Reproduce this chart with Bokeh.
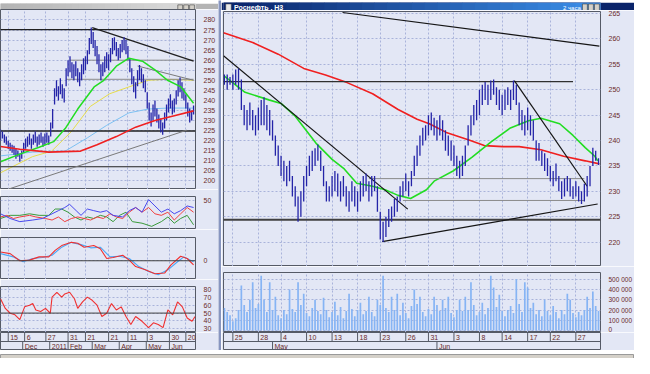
from bokeh.plotting import figure
from bokeh.layouts import row, column
from bokeh.models import Range1d, FixedTicker, Label, Span
from bokeh.core.properties import value
from bokeh.embed import file_html
from bokeh.resources import INLINE

# ---------------- right window: 2-hour bars ----------------
R_LOW = [251, 250, 251, 250, 251, 250, 246, 243, 242, 243, 242, 241, 242, 243, 243, 242, 241, 240,
         237, 235, 233, 232, 231, 232, 229, 227, 224, 225, 228, 231, 233, 234, 235, 236, 234, 231,
         228, 228, 229, 230, 229, 228, 229, 227, 226, 228, 227, 226, 228, 229, 230, 228, 229, 230,
         226, 220.5, 220, 221, 223, 224, 225, 226, 228, 229, 230, 229, 231, 233, 235, 237, 239, 240,
         241, 242, 241, 240, 241, 240, 238, 237, 236, 235, 233, 232.5, 233, 235, 239, 241, 243, 244,
         245, 247, 248, 247, 248, 249, 247, 246, 245, 246, 247, 246, 248, 247, 243, 242, 241, 242,
         241, 240, 236, 236, 235, 234, 233, 232, 231, 232, 230, 228.5, 229, 230, 229, 228.5, 229, 228,
         227.5, 228, 229, 231, 235, 236, 235.2]
R_HIGH = [253, 253, 252.5, 253, 254, 254.2, 252, 247, 246, 247.5, 246, 245, 246.5, 248, 248.5, 247, 246, 244,
          241, 239, 237, 236, 235, 236, 233, 231, 229, 230, 233, 235, 237, 238, 238.5, 239.2, 238, 235,
          232, 231, 233, 234, 233.5, 232, 233, 231, 230, 232, 231, 230, 232, 233, 233.5, 232, 233, 233,
          231, 226, 224, 225, 226.5, 227, 228.5, 229, 231, 232, 233.5, 232, 234, 237, 239, 241, 242.5, 243,
          245, 245.5, 244.5, 244, 245, 244, 242, 241, 240, 239, 237, 236, 237, 239, 243, 245, 247, 248,
          250, 251, 251.5, 251, 251.8, 252, 250.5, 250, 249, 250, 250.5, 250, 251.8, 251, 247.5, 246, 245, 246.5,
          245, 244, 240, 239.5, 238, 237.5, 236.5, 235, 234, 235.5, 233, 232, 232.5, 233, 232.5, 231, 232, 231,
          230, 231.5, 233, 235, 238.6, 238, 236.5]
R_VOL = [220, 180, 150, 90, 120, 200, 440, 250, 180, 300, 470, 220, 260, 535, 300, 180, 470, 200, 330,
         150, 120, 200, 160, 400, 210, 180, 470, 250, 360, 170, 140, 220, 300, 190, 160, 320, 200, 130,
         180, 280, 150, 230, 120, 190, 360, 210, 140, 200, 270, 160, 190, 330, 180, 140, 300, 250, 535,
         220, 180, 330, 200, 360, 150, 270, 170, 120, 240, 400, 260, 330, 180, 140, 210, 160, 330, 250,
         190, 300, 220, 330, 170, 130, 200, 300, 190, 330, 200, 470, 250, 150, 180, 270, 160, 220, 535,
         420, 230, 350, 190, 140, 200, 240, 170, 500, 260, 180, 470, 420, 220, 270, 160, 200, 140, 300,
         190, 150, 240, 180, 120, 200, 160, 360, 300, 170, 130, 180, 150, 200, 330, 220, 380, 240, 190]
R_MA_FAST_X = [0, 7.3, 15.7, 20, 25, 32.3, 38, 42.3, 46.7, 52.3, 56.7, 61.3, 65.7, 71.3, 74, 80.7, 87.3,
               94, 100.7, 107.3, 111.7, 118.3, 123, 127.3, 130.7, 131.7]
R_MA_FAST_Y = [252.7, 249.5, 248, 247.3, 244.8, 239.5, 236.3, 234.4, 231.6, 231, 230.3, 229.2, 228.6,
               230.3, 232, 234, 236.7, 239.7, 242.4, 243.9, 244.4, 243.3, 241, 238.6, 236.9, 236]
R_MA_SLOW_X = [-0.3, 10, 19, 28, 35.7, 43.3, 52.3, 61.3, 68, 72.3, 78.3, 86.3, 91.7, 98.3, 104, 111.7,
               119.7, 127.3, 132.3]
R_MA_SLOW_Y = [261.2, 259.3, 257, 254.2, 252.9, 251.4, 249.2, 246.1, 244.2, 243.3, 241.6, 240.1, 239,
               238.8, 238.8, 238.2, 236.9, 236, 235.4]
R_TREND_X0 = [41.7, -0.3, 102.3, 55.7]
R_TREND_Y0 = [265.2, 256.7, 251.8, 220.1]
R_TREND_X1 = [132.3, 64.7, 128, 131.7]
R_TREND_Y1 = [258.6, 226.5, 231, 227.5]
R_LEVEL_Y = [251.6, 224.4, 232.5, 228.2]
R_LEVEL_X0 = [-0.5, -0.5, 51, 63]
R_LEVEL_X1 = [123, 133, 127, 127]
R_DAY_TICKS = [3, 12, 20, 29, 38, 47, 55, 64, 72, 81, 90, 98, 107, 115, 124]
R_DAY_LABELS = ["25", "28", "4", "10", "13", "18", "23", "26", "31", "3", "8", "14", "17", "22", "27"]
R_MONTH_TICKS = [17, 75]
R_MONTH_LABELS = ["May", "Jun"]
R_PRICE_TICKS = [220, 225, 230, 235, 240, 245, 250, 255, 260, 265]
R_VOL_TICKS = [0, 100, 200, 300, 400, 500]
R_VOL_LABELS = ["0", "100 000", "200 000", "300 000", "400 000", "500 000"]
LAST_PRICE = 235.77

# ---------------- left window: daily bars ----------------
L_LOW = [220, 221, 219, 218, 216, 215, 214, 213, 211, 212, 209.5, 211, 214, 216, 217, 218, 216, 218,
         219, 217, 218, 219, 217, 218, 219, 218, 222, 226, 238, 242, 240, 243, 241, 239, 247, 252, 254,
         251, 250, 252, 249, 247, 250, 253, 255, 258, 263, 268, 266, 262, 258, 254, 250, 252, 254, 256,
         255, 259, 263, 265, 262, 260, 261, 264, 265, 263, 260, 254, 248, 244, 241, 247, 250, 249, 246,
         244, 236, 230, 227, 230, 232, 229, 226, 224, 222.9, 226, 230, 234, 236, 233, 234, 238, 242, 244,
         241, 240, 236, 232, 229, 230, 233]
L_HIGH = [225.5, 224.5, 223, 222, 220, 219, 218, 217.5, 216, 215, 213.5, 215, 219, 221, 222, 223.5, 221, 223,
          224.5, 222, 223, 224, 222, 223.5, 224, 222.5, 229, 235.7, 246, 250, 247, 251, 248, 246, 256, 260, 262,
          259, 258, 259.5, 256, 254, 258, 261, 262, 265, 271, 276.2, 274, 270, 267, 263, 258, 259, 262, 264,
          263, 266, 271, 271.4, 269, 266, 268, 270, 271.4, 270, 267, 261, 256, 252, 249, 255, 257.6, 256, 253,
          250, 244, 239, 234, 238, 240, 236, 233, 231, 229, 234, 238, 241, 243, 240, 241, 245, 250, 251.4,
          249, 246, 243, 239, 236, 235, 237.5]
L_MA_GREEN_X = [0, 10, 20, 27.5, 33.5, 40, 48.5, 53.5, 60, 66.5, 73.5, 80, 86.5, 93.5, 100]
L_MA_GREEN_Y = [209.5, 213.3, 216.7, 219.5, 226, 235.7, 246.7, 250, 257, 261, 259.5, 255.2, 250, 246.7, 238.6]
L_MA_YELLOW_X = [0, 16.5, 26.5, 36.5, 46.5, 56.5, 66.5, 76.5, 86.5, 100]
L_MA_YELLOW_Y = [204, 212, 214.8, 224.3, 237, 243.3, 246.7, 250, 250.5, 250]
L_MA_BLUE_X = [0, 16.5, 33.5, 45, 55, 66.5, 76.5, 86.5, 100]
L_MA_BLUE_Y = [212.4, 214.3, 214.8, 221.4, 227.6, 233.8, 235.7, 236.2, 236.2]
L_MA_RED_X = [0, 10, 25, 41.5, 50, 60, 70, 80, 90, 100]
L_MA_RED_Y = [217.1, 215.7, 214.3, 214.8, 218, 222, 226.7, 230, 232.4, 234.8]
L_TREND_X0 = [47.5, 71, 3.5]
L_TREND_Y0 = [276.2, 257.1, 195.7]
L_TREND_X1 = [100, 100, 96.5]
L_TREND_Y1 = [259.5, 250, 225.2]
L_TREND_COLOR = ["#202020", "#7a7a7a", "#7a7a7a"]
L_LEVEL_Y = [275.2, 224.8, 207, 260, 250.5]
L_LEVEL_X0 = [0, 0, 0, 36, 34]
L_LEVEL_X1 = [101, 101, 101, 100, 100]
L_LEVEL_COLOR = ["#202020", "#202020", "#202020", "#8a8a8a", "#8a8a8a"]
L_DAY_TICKS = [4, 12.5, 23.5, 35, 44, 56, 66, 76, 87.5, 96]
L_DAY_LABELS = ["15", "6", "27", "31", "21", "21", "11", "3", "30", "20"]
L_MONTH_TICKS = [11.5, 25.5, 35, 47.5, 61.5, 75.5, 87.5]
L_MONTH_LABELS = ["Dec", "2011", "Feb", "Mar", "Apr", "May", "Jun"]
L_PRICE_TICKS = [200, 205, 210, 215, 220, 225, 230, 235, 240, 245, 250, 255, 260, 265, 270, 275, 280]

# indicator 1 (three lines)
I1_BLUE_X = [0, 5, 10, 16.7, 21.7, 26.7, 30, 33.3, 35.8, 39.2, 41.7, 45, 48.3, 51.7, 55, 58.3, 63.3, 66.7,
             70, 73.3, 76.7, 80, 83.3, 86.7, 90, 93.3, 96.7, 100]
I1_BLUE_Y = [31.4, 25, 20.7, 22.9, 25, 31.4, 35.7, 40, 44.3, 35.7, 29.3, 37.9, 35.7, 33.6, 35.7, 29.3, 27.1,
             35.7, 40, 33.6, 50.7, 42.1, 33.6, 37.9, 31.4, 35.7, 42.1, 40]
I1_RED_X = [0, 3.3, 6.7, 10, 15, 18.3, 23.3, 26.7, 30, 33.3, 36.7, 40, 43.3, 46.7, 50, 53.3, 56.7, 60,
            63.3, 66.7, 70, 73.3, 76.7, 80, 83.3, 86.7, 90, 93.3, 96.7, 100]
I1_RED_Y = [27.1, 29.3, 25, 27.1, 29.3, 27.1, 25, 22.9, 27.1, 20.7, 25, 27.1, 25, 22.9, 27.1, 25, 31.4, 27.1,
            25, 33.6, 40, 33.6, 40, 31.4, 29.3, 33.6, 22.9, 31.4, 40, 33.6]
I1_GREEN_X = [0, 5, 10, 15, 20, 25, 28.3, 31.7, 35, 38.3, 41.7, 45, 48.3, 51.7, 55, 58.3, 61.7, 65, 68.3,
              73.3, 78.3, 83.3, 86.7, 90, 93.3, 96.7, 100]
I1_GREEN_Y = [25, 29.3, 29.3, 31.4, 29.3, 29.3, 37.9, 37.9, 33.6, 27.1, 22.9, 27.1, 25, 29.3, 27.1, 20.7,
              29.3, 33.6, 20.7, 18.6, 14.3, 20.7, 27.1, 18.6, 25, 29.3, 16.4]
# indicator 2 (two lines)
I2_RED_X = [0, 5, 10, 15, 20, 25, 28.3, 31.7, 36.7, 40, 43.3, 48.3, 51.7, 55, 58.3, 63.3, 66.7, 70, 75,
            80, 85, 88.3, 93.3, 96.7, 100]
I2_RED_Y = [2.7, 2.2, 0, 0.2, 1.2, 1.2, 3.2, 4.7, 5.7, 5.4, 4.2, 4.7, 3.7, 0.7, 1.0, 1.7, 0.2, -1.8, -2.8,
            -4.0, -3.8, -1.3, 1.4, 0.7, -1.3]
I2_BLUE_X = [0, 6.7, 11.7, 16.7, 21.7, 26.7, 31.7, 36.7, 41.7, 46.7, 51.7, 56.7, 61.7, 66.7, 71.7, 76.7,
             81.7, 86.7, 91.7, 95, 100]
I2_BLUE_Y = [2.2, 1.2, -0.3, 0.7, 1.0, 1.7, 4.2, 5.7, 5.0, 4.0, 4.2, 1.2, 1.4, 0.7, -1.8, -3.3, -4.3, -2.8,
             -0.3, 1.2, -0.3]
# indicator 3 (one line)
I3_X = [0, 2.5, 5, 7.5, 10, 12.5, 15, 16.7, 18.3, 20.8, 23.3, 25.8, 26.7, 29.2, 31.7, 33.3, 35.8, 38.3, 40,
        42.5, 45, 47.5, 50, 52.5, 55, 57.5, 60, 62.5, 65, 67.5, 70, 73.3, 76.7, 79.2, 81.7, 84.2, 86.7, 89.2,
        91.7, 94.2, 96.7, 99.2, 100.8]
I3_Y = [68.4, 56, 49.8, 47.8, 41.6, 58, 60, 62.2, 54, 52, 56, 49.8, 70.5, 76.7, 70.5, 74.6, 76.7, 68.4, 56,
        64.3, 70.5, 66.4, 60.2, 45.7, 49.8, 62.2, 54, 58, 45.7, 35.4, 45.7, 39.5, 31.3, 37.5, 35.4, 31.3, 54,
        47.8, 64.3, 58, 43.7, 39.5, 45.7]

# ---------------- styling ----------------
BG = "#e3e7f5"
GRID = "#a9b3da"
LBL = "#6a2a2a"
FONT = "Liberation Sans"
BAR = "#2424a8"
OUT = "#555a66"
L_W, R_W, GAP_W = 218, 413, 3
L_BR, R_BR, R_BL = 21, 27, 2


def panel(width, height, xr, yr, br, bl, bt, yticks, xticks, fs="7px", overrides=None):
    p = figure(width=width, height=height, x_range=xr, y_range=yr, x_axis_location=None,
               y_axis_location="right", toolbar_location=None, output_backend="svg",
               min_border_left=bl, min_border_right=br, min_border_top=bt, min_border_bottom=0)
    p.background_fill_color = BG
    p.border_fill_color = BG
    p.outline_line_color = OUT
    ax = p.yaxis[0]
    ax.ticker = FixedTicker(ticks=yticks)
    ax.axis_line_color = None
    ax.major_tick_line_color = None
    ax.minor_tick_line_color = None
    ax.major_label_text_font_size = fs
    ax.major_label_text_font = FONT
    ax.major_label_text_color = LBL
    ax.major_label_standoff = 2
    if overrides:
        ax.major_label_overrides = overrides
    p.ygrid.ticker = FixedTicker(ticks=yticks)
    p.ygrid.grid_line_color = GRID
    p.ygrid.grid_line_dash = "2 2"
    p.xgrid.ticker = FixedTicker(ticks=xticks)
    p.xgrid.grid_line_color = GRID
    p.xgrid.grid_line_dash = "2 2"
    return p


def title_bar(width, height, c0, c1, text, right_text, text_color):
    p = figure(width=width, height=height, x_range=Range1d(0, 1), y_range=Range1d(0, 1),
               x_axis_location=None, y_axis_location=None, toolbar_location=None,
               output_backend="svg", min_border=0)
    p.outline_line_color = None
    p.background_fill_color = c0
    p.border_fill_color = c0
    p.xgrid.visible = False
    p.ygrid.visible = False
    n = 30
    h0 = [int(c0[k:k + 2], 16) for k in (1, 3, 5)]
    h1 = [int(c1[k:k + 2], 16) for k in (1, 3, 5)]
    cols = ["#%02x%02x%02x" % tuple(int(a + (b - a) * j / (n - 1)) for a, b in zip(h0, h1)) for j in range(n)]
    p.quad(left=[j / n for j in range(n)], right=[(j + 1) / n + 0.002 for j in range(n)],
           bottom=0, top=1, fill_color=cols, line_color=None)
    bw = 6.0 / width
    p.quad(left=[1 - 3.3 * bw, 1 - 2.2 * bw, 1 - 1.1 * bw], right=[1 - 2.4 * bw, 1 - 1.3 * bw, 1 - 0.2 * bw],
           bottom=0.15, top=0.85, fill_color="#d4d0c8", line_color="#404040", line_width=0.6)
    if text:
        p.quad(left=[0.006], right=[0.006 + 6.0 / width], bottom=0.15, top=0.85,
               fill_color="#e8e8e8", line_color="#404040", line_width=0.5)
        p.text(x=[0.006 + 9.0 / width], y=[0.5], text=[text], text_font=value(FONT),
               text_font_size=value("7px"), text_font_style="bold", text_color=text_color,
               text_baseline="middle")
    if right_text:
        p.text(x=[1 - 3.6 * bw], y=[0.5], text=[right_text], text_font=value(FONT),
               text_font_size=value("6px"), text_color=text_color, text_baseline="middle",
               text_align="right")
    return p


def date_strip(width, height, xr, br, bl, dticks, dlabels, mticks, mlabels):
    p = figure(width=width, height=height, x_range=xr, y_range=Range1d(0, 2),
               x_axis_location=None, y_axis_location=None, toolbar_location=None,
               output_backend="svg", min_border_left=bl, min_border_right=br,
               min_border_top=0, min_border_bottom=0)
    p.background_fill_color = BG
    p.border_fill_color = BG
    p.outline_line_color = OUT
    p.xgrid.visible = False
    p.ygrid.visible = False
    p.add_layout(Span(location=1, dimension="width", line_color=OUT, line_width=1))
    p.segment(x0=dticks, y0=[1] * len(dticks), x1=dticks, y1=[2] * len(dticks),
              line_color=OUT, line_width=1)
    p.text(x=dticks, y=[1.5] * len(dticks), text=dlabels, x_offset=2, text_baseline="middle",
           text_font=value(FONT), text_font_size=value("7px"), text_color=LBL)
    p.segment(x0=mticks, y0=[0] * len(mticks), x1=mticks, y1=[1] * len(mticks),
              line_color=OUT, line_width=1)
    p.text(x=mticks, y=[0.5] * len(mticks), text=mlabels, x_offset=2, text_baseline="middle",
           text_font=value(FONT), text_font_size=value("7px"), text_color=LBL)
    return p


# ---------------- right window ----------------
rx = Range1d(-0.3, 132.7)
rp = panel(R_W, 256, rx, Range1d(215.2, 265.4), R_BR, R_BL, 1, R_PRICE_TICKS, R_DAY_TICKS)
r_idx = list(range(len(R_LOW)))
rp.line(R_MA_SLOW_X, R_MA_SLOW_Y, line_color="#f02020", line_width=1.6)
rp.line(R_MA_FAST_X, R_MA_FAST_Y, line_color="#22dd22", line_width=1.6)
rp.segment(x0=R_LEVEL_X0, y0=R_LEVEL_Y, x1=R_LEVEL_X1, y1=R_LEVEL_Y,
           line_color=["#303030", "#404040", "#8a8a8a", "#8a8a8a"], line_width=[1.2, 2.2, 1, 1])
rp.segment(x0=R_TREND_X0, y0=R_TREND_Y0, x1=R_TREND_X1, y1=R_TREND_Y1, line_color="#151515",
           line_width=1.2)
rp.segment(x0=r_idx, y0=R_LOW, x1=r_idx, y1=R_HIGH, line_color=BAR, line_width=1.3)
rp.add_layout(Label(x=132.7, y=LAST_PRICE, x_offset=1, text="235.77", text_font=FONT,
                    text_font_size="7px", text_color="#102070", text_baseline="middle",
                    background_fill_color="#eef3ff", border_line_color="#3050b0", padding=1))

rv = panel(R_W, 66, rx, Range1d(-19, 566), R_BR, R_BL, 6, R_VOL_TICKS, R_DAY_TICKS, fs="6.5px",
           overrides={t: s for t, s in zip(R_VOL_TICKS, R_VOL_LABELS)})
rv.vbar(x=r_idx, top=R_VOL, bottom=0, width=0.6, fill_color="#86b4f4", line_color=None)

rd = date_strip(R_W, 18, rx, R_BR, R_BL, R_DAY_TICKS, R_DAY_LABELS, R_MONTH_TICKS, R_MONTH_LABELS)
rt = title_bar(R_W, 10, "#0a246a", "#3b8ee8", "Роснефть , H3", "2 часа", "#ffffff")

# ---------------- left window ----------------
lx = Range1d(0, 101)
lp = panel(L_W, 180, lx, Range1d(195.7, 285.2), L_BR, 0, 0, L_PRICE_TICKS, L_DAY_TICKS)
l_idx = list(range(len(L_LOW)))
lp.line(L_MA_YELLOW_X, L_MA_YELLOW_Y, line_color="#e6dc4a", line_width=1)
lp.line(L_MA_BLUE_X, L_MA_BLUE_Y, line_color="#7cc0f2", line_width=1)
lp.segment(x0=L_LEVEL_X0, y0=L_LEVEL_Y, x1=L_LEVEL_X1, y1=L_LEVEL_Y, line_color=L_LEVEL_COLOR,
           line_width=[1.2, 1.4, 1.2, 1, 1])
lp.segment(x0=L_TREND_X0, y0=L_TREND_Y0, x1=L_TREND_X1, y1=L_TREND_Y1, line_color=L_TREND_COLOR,
           line_width=[1.3, 1, 1])
lp.segment(x0=l_idx, y0=L_LOW, x1=l_idx, y1=L_HIGH, line_color=BAR, line_width=1.3)
lp.line(L_MA_GREEN_X, L_MA_GREEN_Y, line_color="#22dd22", line_width=1.5)
lp.line(L_MA_RED_X, L_MA_RED_Y, line_color="#f02020", line_width=1.6)
lp.add_layout(Label(x=101, y=LAST_PRICE, x_offset=1, text="235.77", text_font=FONT,
                    text_font_size="7px", text_color="#102070", text_baseline="middle",
                    background_fill_color="#eef3ff", border_line_color="#3050b0", padding=1))

li1 = panel(L_W, 40, lx, Range1d(10, 55), L_BR, 0, 7, [50], L_DAY_TICKS)
li1.line(I1_GREEN_X, I1_GREEN_Y, line_color="#3a9a3a", line_width=1)
li1.line(I1_RED_X, I1_RED_Y, line_color="#f04040", line_width=1)
li1.line(I1_BLUE_X, I1_BLUE_Y, line_color="#4848ee", line_width=1)

li2 = panel(L_W, 50, lx, Range1d(-5.8, 7.2), L_BR, 0, 8, [0], L_DAY_TICKS)
li2.add_layout(Span(location=0, dimension="width", line_color="#404040", line_width=1))
li2.line(I2_BLUE_X, I2_BLUE_Y, line_color="#4aa8f8", line_width=1.1)
li2.line(I2_RED_X, I2_RED_Y, line_color="#f03030", line_width=1.1)

li3 = panel(L_W, 53, lx, Range1d(25.1, 84.1), L_BR, 0, 7, [30, 40, 50, 60, 70, 80], L_DAY_TICKS)
li3.add_layout(Span(location=50, dimension="width", line_color="#404040", line_width=1))
li3.line(I3_X, I3_Y, line_color="#f03030", line_width=1.1)

ld = date_strip(L_W, 18, lx, L_BR, 0, L_DAY_TICKS, L_DAY_LABELS, L_MONTH_TICKS, L_MONTH_LABELS)
lt = title_bar(L_W, 9, "#b4b4b4", "#dcdcdc", None, None, "#ffffff")

# ---------------- chrome ----------------
gap = figure(width=GAP_W, height=350, x_axis_location=None, y_axis_location=None,
             toolbar_location=None, output_backend="svg", min_border=0)
gap.background_fill_color = "#8896c0"
gap.border_fill_color = "#8896c0"
gap.outline_line_color = None
gap.xgrid.visible = False
gap.ygrid.visible = False

status = figure(width=L_W + GAP_W + R_W, height=8, x_axis_location=None, y_axis_location=None,
                toolbar_location=None, output_backend="svg", min_border=0)
status.background_fill_color = "#d4d0c8"
status.border_fill_color = "#d4d0c8"
status.outline_line_color = "#9a9a9a"
status.xgrid.visible = False
status.ygrid.visible = False

left_col = column(lt, lp, li1, li2, li3, ld, spacing=0)
right_col = column(rt, rp, rv, rd, spacing=0)
page = column(row(left_col, gap, right_col, spacing=0), status, spacing=0)

open("out.html", "w").write(file_html(page, INLINE))
